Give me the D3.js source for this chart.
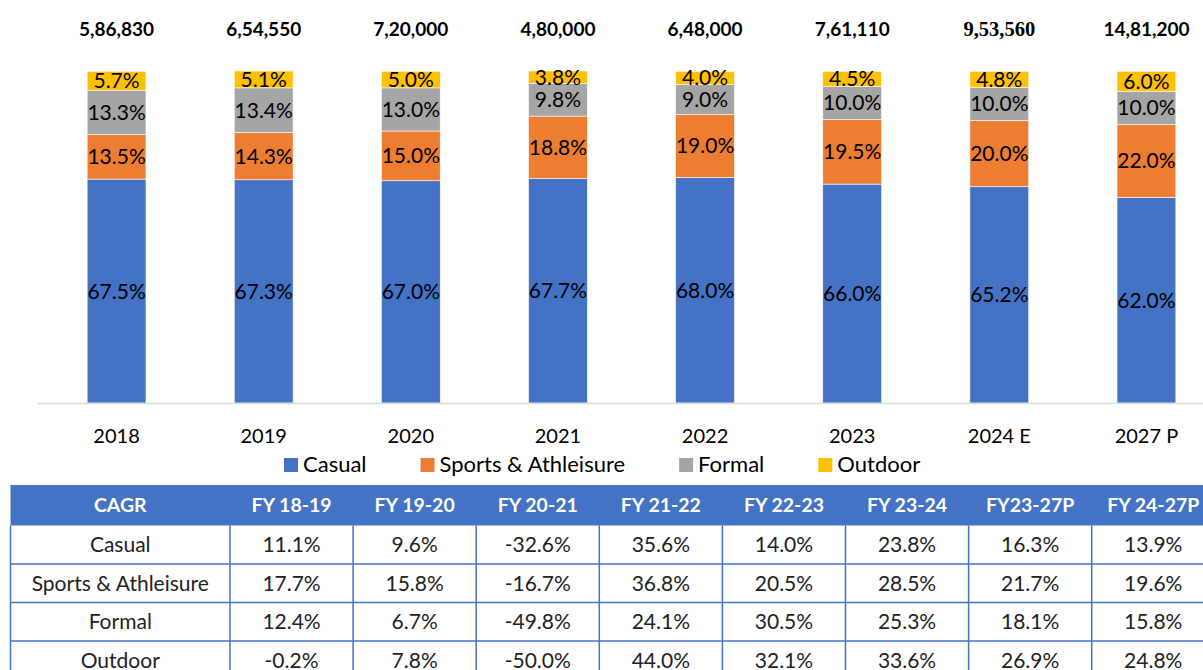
<!DOCTYPE html>
<html>
<head>
<meta charset="utf-8">
<script src="https://cdn.jsdelivr.net/npm/d3@7"></script>
<style>
  body { margin: 0; background: #fff; }
  svg { display: block; font-family: Lato, "Open Sans", sans-serif; }
</style>
</head>
<body>
<div id="chart"></div>
<script>
// bar chart data (share of market, %)
var years = ["2018", "2019", "2020", "2021", "2022", "2023", "2024 E", "2027 P"];
var totals = [586830, 654550, 720000, 480000, 648000, 761110, 953560, 1481200];
var segments = ["Casual", "Sports & Athleisure", "Formal", "Outdoor"];
var casual = [67.5, 67.3, 67.0, 67.7, 68.0, 66.0, 65.2, 62.0];
var sports = [13.5, 14.3, 15.0, 18.8, 19.0, 19.5, 20.0, 22.0];
var formal = [13.3, 13.4, 13.0, 9.8, 9.0, 10.0, 10.0, 10.0];
var outdoor = [5.7, 5.1, 5.0, 3.8, 4.0, 4.5, 4.8, 6.0];

// CAGR table data
var periods = ["FY 18-19", "FY 19-20", "FY 20-21", "FY 21-22", "FY 22-23", "FY 23-24", "FY23-27P", "FY 24-27P"];
var cagrCasual = [11.1, 9.6, -32.6, 35.6, 14.0, 23.8, 16.3, 13.9];
var cagrSports = [17.7, 15.8, -16.7, 36.8, 20.5, 28.5, 21.7, 19.6];
var cagrFormal = [12.4, 6.7, -49.8, 24.1, 30.5, 25.3, 18.1, 15.8];
var cagrOutdoor = [-0.2, 7.8, -50.0, 44.0, 32.1, 33.6, 26.9, 24.8];

var width = 1203, height = 670;
var colors = ["#4472C4", "#ED7D31", "#A5A5A5", "#FFC000"];

// indian style grouping 14,81,200
function indian(n) {
    var s = String(n);
    var last3 = s.slice(-3), rest = s.slice(0, -3);
    if (rest.length == 0) return last3;
    return rest.replace(/\B(?=(\d{2})+(?!\d))/g, ",") + "," + last3;
}

var svg = d3.select("#chart")
    .append("svg")
    .attr("width", width)
    .attr("height", height);

var rows = years.map(function(y, i) {
    return { year: y, total: totals[i], "Casual": casual[i], "Sports & Athleisure": sports[i], "Formal": formal[i], "Outdoor": outdoor[i] };
});

var x = d3.scaleBand()
    .domain(years)
    .range([43, 1220])
    .paddingInner(0.6)
    .paddingOuter(0.3);

var y = d3.scaleLinear()
    .domain([0, 100])
    .range([403, 71.3]);

var stack = d3.stack().keys(segments)(rows);

var layer = svg.append("g")
    .selectAll("g")
    .data(stack)
    .enter()
    .append("g")
    .attr("fill", function(d, i) { return colors[i]; });

layer.selectAll("rect")
    .data(function(d) { return d; })
    .enter()
    .append("rect")
    .attr("x", function(d) { return x(d.data.year); })
    .attr("y", function(d) { return y(d[1]); })
    .attr("width", x.bandwidth())
    .attr("height", function(d) { return y(d[0]) - y(d[1]); })
    .attr("stroke", "#fff")
    .attr("stroke-width", 0.6);

// percentage labels inside segments
layer.selectAll("text")
    .data(function(d) { return d; })
    .enter()
    .append("text")
    .attr("x", function(d) { return x(d.data.year) + x.bandwidth() / 2; })
    .attr("y", function(d) { return (y(d[0]) + y(d[1])) / 2; })
    .attr("dy", "0.36em")
    .attr("text-anchor", "middle")
    .attr("fill", "#000")
    .style("font-size", "21px")
    .text(function(d) { return (d[1] - d[0]).toFixed(1) + "%"; });

// totals above bars
svg.append("g")
    .selectAll("text")
    .data(rows)
    .enter()
    .append("text")
    .attr("x", function(d) { return x(d.year) + x.bandwidth() / 2; })
    .attr("y", 36)
    .attr("text-anchor", "middle")
    .style("font-weight", "bold")
    .style("font-size", function(d, i) { return i == 6 ? "20.5px" : "19px"; })
    .style("font-family", function(d, i) { return i == 6 ? "'Liberation Serif', serif" : null; })
    .text(function(d) { return indian(d.total); });

// x axis
var xAxis = svg.append("g")
    .attr("transform", "translate(0,403)")
    .call(d3.axisBottom(x).tickSize(0).tickPadding(0));
xAxis.select(".domain")
    .attr("d", "M38,0.5H1203")
    .attr("stroke", "#d9d9d9")
    .attr("stroke-width", 1.5);
xAxis.selectAll("text")
    .attr("y", 40)
    .attr("dy", 0)
    .attr("fill", "#000")
    .style("font-size", "20px")
    .style("font-family", "Lato, sans-serif");

// legend
var legend = svg.append("g");
var lx = 284;
segments.forEach(function(s, i) {
    var item = legend.append("g").attr("transform", "translate(" + lx + ",0)");
    item.append("rect")
        .attr("x", 0).attr("y", 458)
        .attr("width", 14).attr("height", 14)
        .attr("fill", colors[i]);
    var t = item.append("text")
        .attr("x", 19).attr("y", 472)
        .style("font-size", "22px")
        .attr("fill", "#000")
        .text(s);
    lx += 19 + t.node().getComputedTextLength() + 54;
});

// CAGR table
var tableRows = [
    { name: "Casual", vals: cagrCasual },
    { name: "Sports & Athleisure", vals: cagrSports },
    { name: "Formal", vals: cagrFormal },
    { name: "Outdoor", vals: cagrOutdoor }
];
var tLeft = 10.5, firstCol = 230, colW = 123.1, headTop = 485, headH = 40.5, rowH = 38.5;

var colX = d3.scaleBand()
    .domain(periods)
    .range([firstCol, firstCol + colW * periods.length]);

var rowY = d3.scaleBand()
    .domain(tableRows.map(function(d) { return d.name; }))
    .range([headTop + headH, headTop + headH + rowH * tableRows.length]);

var table = svg.append("g");
var tRight = firstCol + colW * periods.length;

table.append("rect")
    .attr("x", tLeft).attr("y", headTop)
    .attr("width", tRight - tLeft).attr("height", headH)
    .attr("fill", "#4472C4");

// grid lines
tableRows.forEach(function(r) {
    table.append("line")
        .attr("x1", tLeft).attr("x2", tRight)
        .attr("y1", rowY(r.name) + rowY.bandwidth()).attr("y2", rowY(r.name) + rowY.bandwidth())
        .attr("stroke", "#4472C4").attr("stroke-width", 1.5);
});
[tLeft].concat(periods.map(function(p) { return colX(p); })).forEach(function(cx) {
    table.append("line")
        .attr("x1", cx).attr("x2", cx)
        .attr("y1", headTop + headH).attr("y2", height)
        .attr("stroke", "#4472C4").attr("stroke-width", 1.5);
});

// header text
table.append("text")
    .attr("x", (tLeft + firstCol) / 2).attr("y", headTop + headH / 2)
    .attr("dy", "0.36em")
    .attr("text-anchor", "middle")
    .attr("fill", "#fff")
    .style("font-weight", "bold")
    .style("font-size", "19.5px")
    .text("CAGR");
table.selectAll(".head")
    .data(periods)
    .enter()
    .append("text")
    .attr("class", "head")
    .attr("x", function(d) { return colX(d) + colX.bandwidth() / 2; })
    .attr("y", headTop + headH / 2)
    .attr("dy", "0.36em")
    .attr("text-anchor", "middle")
    .attr("fill", "#fff")
    .style("font-weight", "bold")
    .style("font-size", "19.5px")
    .text(function(d) { return d; });

// body text
var tr = table.selectAll(".trow")
    .data(tableRows)
    .enter()
    .append("g")
    .attr("class", "trow")
    .attr("transform", function(d) { return "translate(0," + (rowY(d.name) + rowY.bandwidth() / 2) + ")"; });

tr.append("text")
    .attr("x", (tLeft + firstCol) / 2)
    .attr("dy", "0.36em")
    .attr("text-anchor", "middle")
    .attr("fill", "#222")
    .style("font-size", "21px")
    .text(function(d) { return d.name; });

tr.selectAll(".val")
    .data(function(d) { return d.vals; })
    .enter()
    .append("text")
    .attr("class", "val")
    .attr("x", function(d, i) { return colX(periods[i]) + colX.bandwidth() / 2; })
    .attr("dy", "0.36em")
    .attr("text-anchor", "middle")
    .attr("fill", "#222")
    .style("font-size", "21px")
    .text(function(d) { return d.toFixed(1) + "%"; });
</script>
</body>
</html>
